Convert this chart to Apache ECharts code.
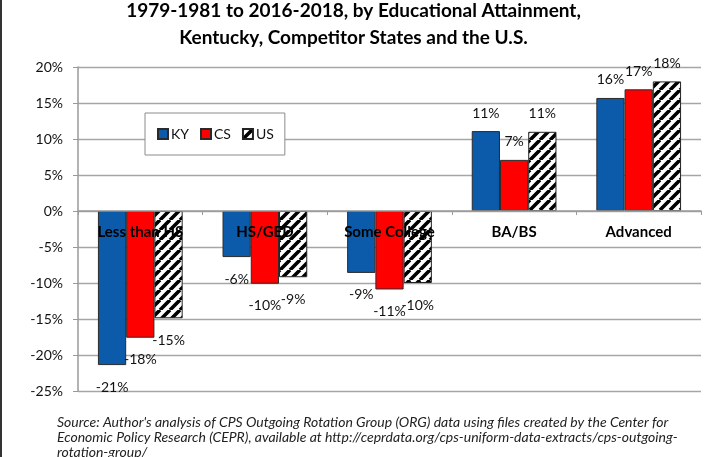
<!DOCTYPE html>
<html>
<head>
<meta charset="utf-8">
<script src="https://cdn.jsdelivr.net/npm/echarts@6/dist/echarts.min.js"></script>
<style>
  html, body { margin: 0; padding: 0; background: #fff; }
  #chart { width: 707px; height: 457px; }
</style>
</head>
<body>
<div id="chart"></div>
<script>
// Change in share of employment by education, three geographies
const categories = ['Less than HS', 'HS/GED', 'Some College', 'BA/BS', 'Advanced'];
const seriesNames = ['KY', 'CS', 'US'];
const kyValues = [-21.4, -6.4, -8.6, 11.1, 15.7];
const csValues = [-17.6, -10.1, -10.9, 7.1, 16.9];
const usValues = [-14.9, -9.2, -10.0, 11.0, 18.0];
const yMin = -25, yMax = 20, yStep = 5;

const titleLines = [
  '1979-1981 to 2016-2018, by Educational Attainment,',
  'Kentucky, Competitor States and the U.S.'
];
const sourceLines = [
  "Source: Author's analysis of CPS Outgoing Rotation Group (ORG) data using files created by the Center for",
  'Economic Policy Research (CEPR), available at http://ceprdata.org/cps-uniform-data-extracts/cps-outgoing-',
  'rotation-group/'
];

// Diagonal black-and-white hatch used for the U.S. bars
function hatch() {
  const s = 10;
  const c = document.createElement('canvas');
  c.width = s; c.height = s;
  const g = c.getContext('2d');
  g.fillStyle = '#fff';
  g.fillRect(0, 0, s, s);
  g.strokeStyle = '#000';
  g.lineWidth = 3.6;
  g.beginPath();
  for (const o of [-s, 0, s]) {
    g.moveTo(o, s);
    g.lineTo(o + s, 0);
  }
  g.stroke();
  return c;
}

const FONT = 'Lato, "Open Sans", sans-serif';

// Plot box
const W = 707, H = 457;
const gridBox = { left: 78, right: 6, top: 67, bottom: 66 };
const plotH = H - gridBox.top - gridBox.bottom;
// Category axis sits on the zero line rather than the bottom edge
const zeroOffset = -plotH * (0 - yMin) / (yMax - yMin);

function toItems(values) {
  return values.map(v => ({
    value: v,
    label: v >= 0
      ? { position: 'top', distance: 11 }
      : { position: 'bottom', distance: 15 }
  }));
}

const barLabel = {
  show: true,
  fontFamily: FONT,
  fontSize: 14,
  color: '#111',
  formatter: p => Math.round(p.value) + '%'
};

const fills = ['#0B5BAA', '#FF0000', { image: hatch(), repeat: 'repeat' }];
const borders = ['#2a2a2a', '#2a2a2a', '#222'];
const valueSets = [kyValues, csValues, usValues];

const chart = echarts.init(document.getElementById('chart'), null, { renderer: 'canvas' });

chart.setOption({
  animation: false,
  backgroundColor: '#fff',
  title: {
    text: titleLines.join('\n'),
    left: 'center',
    top: -8,
    textStyle: {
      fontFamily: FONT,
      fontSize: 19,
      fontWeight: 'bold',
      color: '#000',
      lineHeight: 27
    }
  },
  legend: {
    left: 145,
    top: 113,
    padding: [14, 11, 14, 12],
    backgroundColor: '#fff',
    borderColor: '#8c8c8c',
    borderWidth: 1,
    borderRadius: 0,
    itemWidth: 10,
    itemHeight: 10,
    itemGap: 11,
    icon: 'rect',
    textStyle: { fontFamily: FONT, fontSize: 14, color: '#111', padding: [0, 0, 0, -2] },
    data: seriesNames
  },
  grid: Object.assign({ containLabel: false }, gridBox),
  xAxis: {
    type: 'category',
    data: categories,
    z: 10,
    offset: zeroOffset,
    axisLine: { onZero: false, lineStyle: { color: '#9a9a9a', width: 1.5 } },
    axisTick: { show: true, length: 4, lineStyle: { color: '#9a9a9a' } },
    axisLabel: {
      margin: 14,
      fontFamily: FONT,
      fontSize: 15,
      fontWeight: 'bold',
      color: '#000'
    }
  },
  yAxis: {
    type: 'value',
    min: yMin,
    max: yMax,
    interval: yStep,
    axisLine: { show: true, lineStyle: { color: '#9a9a9a', width: 1.5 } },
    axisTick: { show: true, length: 5, lineStyle: { color: '#9a9a9a' } },
    splitLine: { lineStyle: { color: '#a6a6a6', width: 1.3 } },
    axisLabel: {
      margin: 15,
      fontFamily: FONT,
      fontSize: 14,
      color: '#111',
      formatter: v => v + '%'
    }
  },
  series: seriesNames.map((name, i) => ({
    name,
    type: 'bar',
    barGap: 0,
    barCategoryGap: '32%',
    data: toItems(valueSets[i]),
    itemStyle: { color: fills[i], borderColor: borders[i], borderWidth: 1 },
    label: barLabel,
    labelLayout: { hideOverlap: false }
  })),
  graphic: [
    {
      type: 'rect',
      shape: { x: 0, y: 0, width: 2, height: H },
      style: { fill: '#333' }
    },
    ...sourceLines.map((t, i) => ({
      type: 'text',
      left: 57,
      top: 415 + i * 15,
      style: {
        text: t,
        font: 'italic 14px ' + FONT,
        fill: '#222'
      }
    }))
  ]
});
</script>
</body>
</html>
